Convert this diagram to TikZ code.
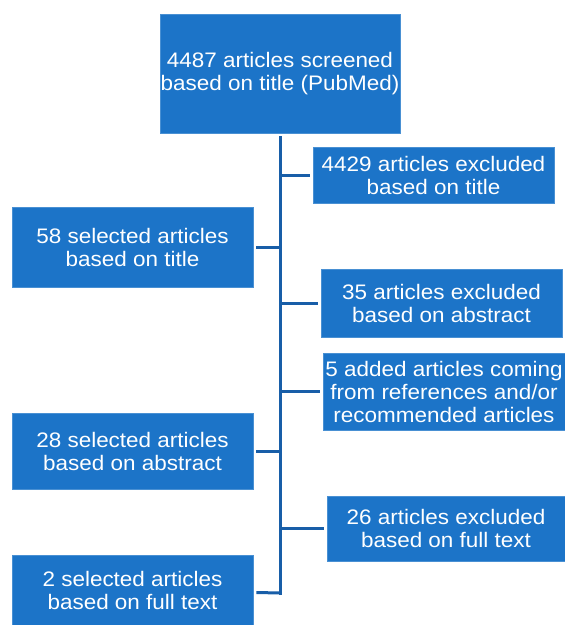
\documentclass[tikz,border=0pt]{standalone}
\usepackage{fontspec}
\setmainfont{Liberation Sans}[FakeStretch=1.07]
\usepackage{tikz}
\usetikzlibrary{positioning}

\definecolor{boxblue}{RGB}{28,116,200}
\definecolor{lineblue}{RGB}{24,94,168}

\tikzset{
  stepbox/.style={fill=boxblue, draw=boxblue!80!white, line width=0.6pt,
    text=white, align=center, inner sep=0pt, font=\fontsize{21}{23}\selectfont},
  trunk/.style={draw=lineblue, line width=3pt},
  branch/.style={draw=lineblue, line width=3pt, shorten >=3pt}
}

\begin{document}
\begin{tikzpicture}[x=1pt,y=-1pt]

    \useasboundingbox (0,0) rectangle (565,625);

    % boxes
    \node[stepbox, minimum width=240, minimum height=119] (screen) at (280,73.5)
        {4487 articles screened\\based on title (PubMed)};
    \node[stepbox, minimum width=241, minimum height=56] (exTitle) at (433.5,175)
        {4429 articles excluded\\based on title};
    \node[stepbox, minimum width=241, minimum height=80] (selTitle) at (132.5,247)
        {58 selected articles\\based on title};
    \node[stepbox, minimum width=241, minimum height=68] (exAbs) at (441.5,303)
        {35 articles excluded\\based on abstract};
    \node[stepbox, minimum width=242, minimum height=77] (added) at (444,391.5)
        {5 added articles coming\\from references and/or\\recommended articles};
    \node[stepbox, minimum width=241, minimum height=76] (selAbs) at (132.5,451)
        {28 selected articles\\based on abstract};
    \node[stepbox, minimum width=238, minimum height=65] (exFull) at (446,528.5)
        {26 articles excluded\\based on full text};
    \node[stepbox, minimum width=241, minimum height=70] (selFull) at (132.5,590)
        {2 selected articles\\based on full text};

    % trunk
    \coordinate (top) at (280.5,136);
    \coordinate (bot) at (280.5,594.5);
    \draw[trunk] (top) -- (bot);

    % branches
    \foreach \b in {exTitle,selTitle,exAbs,added,selAbs,exFull}
        \draw[branch] (top |- \b.west) -- (\b);
    \draw[branch] (280.5,593) -- (selFull);

\end{tikzpicture}
\end{document}
